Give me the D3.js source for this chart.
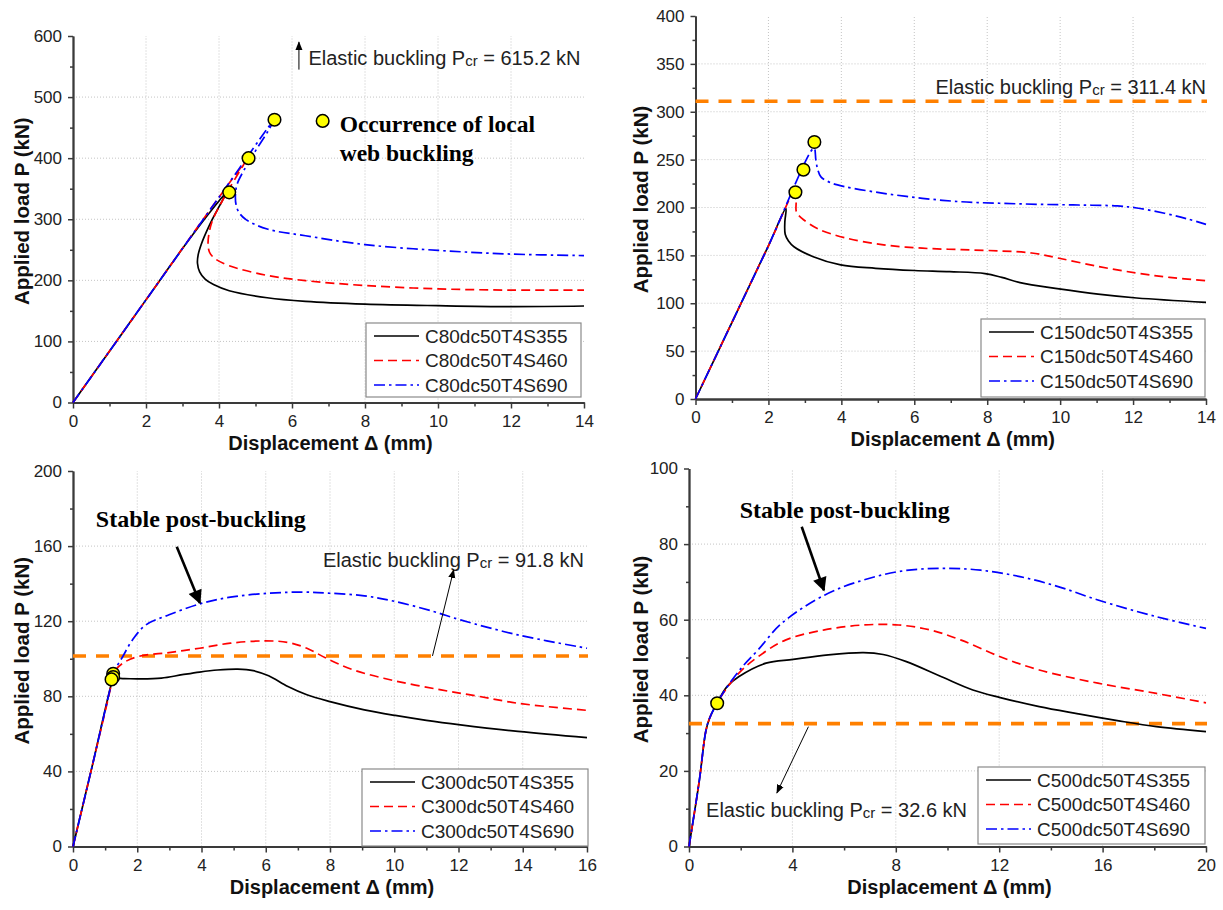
<!DOCTYPE html>
<html><head><meta charset="utf-8">
<script src="https://cdn.jsdelivr.net/npm/d3@7"></script>
<style>
body{margin:0;background:#fff;}
svg{display:block;font-family:"Liberation Sans",Arial,sans-serif;}
</style></head><body>
<svg id="c" width="1223" height="910"></svg>
<script>
// ---------------- DATA ----------------
const names1 = ["C80dc50T4S355","C80dc50T4S460","C80dc50T4S690"];
const names2 = ["C150dc50T4S355","C150dc50T4S460","C150dc50T4S690"];
const names3 = ["C300dc50T4S355","C300dc50T4S460","C300dc50T4S690"];
const names4 = ["C500dc50T4S355","C500dc50T4S460","C500dc50T4S690"];

const p1_S355 = [[0,0],[1,84],[2,168],[3,252],[3.6,300],[4.0,330],[4.15,340],[4.12,334],[3.95,315],[3.72,288],[3.52,260],[3.43,242],[3.41,228],[3.47,214],[3.62,202],[3.85,193],[4.28,183],[5.32,171.5],[6.37,165.5],[8,161],[10,158.5],[12,157],[14,158]];
const p1_S460 = [[0,0],[2,168],[4,336],[4.72,394],[4.6,382],[4.3,352],[4.0,320],[3.82,298],[3.73,278],[3.7,260],[3.74,246],[3.88,236],[4.28,224],[5.32,208],[6.37,199.5],[8,191.5],[10,186],[12,184],[14,184]];
const p1_S690 = [[0,0],[2,168],[4,336],[5.5,462],[5.35,445],[5.0,412],[4.7,382],[4.5,358],[4.45,340],[4.47,323],[4.56,310],[4.75,299],[5.32,284],[6.37,273],[8,258.5],[10,249],[12,243],[14,240.5]];
const p1_buckle = [[4.28,344],[4.81,400],[5.52,463]];

const p2_S355 = [[0,0],[1,80],[2,160],[2.48,199],[2.45,185],[2.46,172],[2.55,165],[2.7,159],[3.23,148.6],[3.98,140],[4.94,136.5],[6.01,134.2],[6.97,133],[7.94,131],[8.4,127],[8.9,121.5],[9.97,115],[11.04,109.5],[12.1,105.5],[14,101]];
const p2_S460 = [[0,0],[1,80],[2,160],[2.78,222],[2.76,205],[2.77,195],[2.91,189],[3.34,178],[4.09,168.5],[5.16,161],[6.22,157.5],[7.29,156],[8.36,154.6],[9.22,152.5],[9.97,147],[11.04,138.5],[12.1,131.5],[13,127],[14,123.5]];
const p2_S690 = [[0,0],[1,80],[2,160],[3.25,262],[3.3,250],[3.35,240],[3.44,232],[3.7,226],[4.09,221.8],[5.16,214.8],[6.22,209.6],[7.29,206],[8.36,204.4],[9.43,203.3],[10.5,202.6],[11.57,201.6],[12.1,199.5],[12.86,194],[13.5,188],[14,182.4]];
const p2_buckle = [[2.74,216],[2.96,239.5],[3.26,268.4]];

const p3_S355 = [[0,0],[0.6,43],[1.2,87],[1.25,89.3],[1.6,89.4],[2.03,89.3],[2.75,89.7],[3.4,91.5],[3.94,92.9],[4.5,94],[5.13,94.5],[5.61,93.7],[6.09,90.9],[6.69,85.2],[7.28,80.8],[8,77.2],[9.07,72.8],[10.03,69.8],[11,67.2],[12.06,64.8],[13.85,61.3],[16,58]];
const p3_S460 = [[0,0],[0.6,43],[1.2,87],[1.25,92.3],[1.55,97.6],[2.03,101.2],[2.99,103.3],[3.94,105.6],[4.9,108.3],[5.97,109.5],[6.69,108.7],[7.28,105.6],[7.88,100.3],[8.72,94.1],[10.03,88.2],[11.46,83.4],[12.66,79.9],[13.85,76.3],[16,72.5]];
const p3_S690 = [[0,0],[0.6,43],[1.2,87],[1.31,94.1],[1.55,101.2],[1.85,110],[2.27,118],[2.99,123.4],[3.94,129.2],[4.9,132.8],[6.09,134.9],[7.16,135.5],[8,134.9],[9.07,133.5],[10.03,130.5],[11.22,125.2],[12.06,120.7],[13.85,112.7],[16,105.6]];
const p3_buckle = [[1.25,92],[1.25,90.3],[1.2,89]];

const p4_S355 = [[0,0],[0.4,17.5],[0.65,30.5],[0.8,34],[1.09,38],[1.47,42.3],[1.92,44.9],[2.98,48.5],[4.03,49.5],[5.39,50.7],[6.75,51.3],[7.51,50.8],[8.41,48.9],[9.77,44.9],[10.98,41.4],[12.04,39.4],[13.55,37],[15.06,35.1],[16.57,33.3],[18.08,31.7],[20,30.4]];
const p4_S460 = [[0,0],[0.4,17.5],[0.65,30.5],[0.8,34],[1.16,38.8],[1.92,45.8],[2.67,50.2],[3.73,54.6],[5.24,57.3],[6.75,58.6],[8.11,58.6],[9.32,57.3],[10.53,54.6],[12.04,50.2],[13.55,46.7],[15.82,43.2],[18.08,40.5],[20,38]];
const p4_S690 = [[0,0],[0.4,17.5],[0.65,30.5],[0.8,34],[1.31,40.5],[2.07,47.6],[2.67,52],[3.58,59],[5.24,66.5],[6.75,70.5],[8.26,72.9],[9.77,73.6],[11.28,73.1],[12.8,71.4],[14.31,68.7],[15.82,65.2],[18.08,60.8],[20,57.7]];
const p4_buckle = [[1.09,37.9]];

const pcrLabels = ["615.2","311.4","91.8","32.6"];
const pcrLineValues = [null, 311, 101.5, 32.5];

const xTicks1 = [0,2,4,6,8,10,12,14], yTicks1 = [0,100,200,300,400,500,600];
const xTicks2 = [0,2,4,6,8,10,12,14], yTicks2 = [0,50,100,150,200,250,300,350,400];
const xTicks3 = [0,2,4,6,8,10,12,14,16], yTicks3 = [0,40,80,120,160,200];
const xTicks4 = [0,4,8,12,16,20], yTicks4 = [0,20,40,60,80,100];

// ---------------- DRAWING ----------------
const svg = d3.select("#c");
const defs = svg.append("defs");
defs.append("marker").attr("id","headThin").attr("viewBox","0 0 10 10").attr("refX",9).attr("refY",5)
  .attr("markerWidth",9).attr("markerHeight",9).attr("markerUnits","userSpaceOnUse").attr("orient","auto")
  .append("path").attr("d","M0,1 L10,5 L0,9 Z").attr("fill","#000");
defs.append("marker").attr("id","headThick").attr("viewBox","0 0 10 10").attr("refX",9).attr("refY",5)
  .attr("markerWidth",16).attr("markerHeight",14).attr("markerUnits","userSpaceOnUse").attr("orient","auto")
  .append("path").attr("d","M0,0 L10,5 L0,10 Z").attr("fill","#000");

const styles = [
  {stroke:"#000000", dash:null, width:1.7},
  {stroke:"#ff0000", dash:"9,5", width:1.7},
  {stroke:"#0000ff", dash:"11,4,2.5,4", width:1.7}
];

function midTicks(t){ const r=[]; for(let i=0;i<t.length-1;i++) r.push((t[i]+t[i+1])/2); return r; }

function panel(cfg){
  const g = svg.append("g");
  const xT = cfg.xTicks, yT = cfg.yTicks;
  const x = d3.scaleLinear().domain([xT[0], xT[xT.length-1]]).range([cfg.left, cfg.right]);
  const y = d3.scaleLinear().domain([yT[0], yT[yT.length-1]]).range([cfg.bottom, cfg.top]);

  // grid
  const grid = g.append("g").attr("stroke","#c4c4c4").attr("stroke-width",1).attr("stroke-dasharray","1,2");
  grid.selectAll("line.v").data(xT.slice(1,-1)).join("line")
    .attr("x1",d=>x(d)).attr("x2",d=>x(d)).attr("y1",y.range()[0]).attr("y2",y.range()[1]);
  grid.selectAll("line.h").data(yT.slice(1,-1)).join("line").attr("class","h")
    .attr("x1",x.range()[0]).attr("x2",x.range()[1]).attr("y1",d=>y(d)).attr("y2",d=>y(d));

  // axes
  const axCol = "#3a3a3a";
  const xMinor = g.append("g").attr("transform",`translate(0,${cfg.bottom})`)
    .call(d3.axisBottom(x).tickValues(midTicks(xT)).tickSize(4).tickSizeOuter(0).tickFormat(""));
  const xMajor = g.append("g").attr("transform",`translate(0,${cfg.bottom})`)
    .call(d3.axisBottom(x).tickValues(xT).tickSize(6).tickSizeOuter(0).tickPadding(6).tickFormat(d3.format("d")));
  const yMinor = g.append("g").attr("transform",`translate(${cfg.left},0)`)
    .call(d3.axisLeft(y).tickValues(midTicks(yT)).tickSize(3).tickSizeOuter(0).tickFormat(""));
  const yMajor = g.append("g").attr("transform",`translate(${cfg.left},0)`)
    .call(d3.axisLeft(y).tickValues(yT).tickSize(5).tickSizeOuter(0).tickPadding(6).tickFormat(d3.format("d")));
  [xMinor,xMajor,yMinor,yMajor].forEach(a=>{
    a.select(".domain").attr("stroke",axCol).attr("stroke-width",1.8);
    a.selectAll(".tick line").attr("stroke",axCol).attr("stroke-width",1.5);
    a.selectAll("text").attr("font-size",17).attr("fill","#222").attr("font-family","Liberation Sans, Arial, sans-serif");
  });

  // axis titles
  g.append("text").attr("x",(cfg.left+cfg.right)/2+2).attr("y",cfg.bottom+47)
    .attr("text-anchor","middle").attr("font-size",20).attr("font-weight","bold").attr("fill","#111")
    .text("Displacement \u0394 (mm)");
  const ym = (cfg.top+cfg.bottom)/2 - 8;
  g.append("text").attr("transform",`translate(${cfg.ytitleX},${ym}) rotate(-90)`)
    .attr("text-anchor","middle").attr("dominant-baseline","central").attr("font-size",20.5).attr("font-weight","bold").attr("fill","#111")
    .text("Applied load P (kN)");

  // Pcr line
  if (cfg.pcrLine != null){
    g.append("line").attr("x1",x.range()[0]).attr("x2",x.range()[1]+1)
      .attr("y1",y(cfg.pcrLine)).attr("y2",y(cfg.pcrLine))
      .attr("stroke","#ff8000").attr("stroke-width",3.6).attr("stroke-dasharray","13,10");
  }

  // curves
  const line = d3.line().x(d=>x(d[0])).y(d=>y(d[1])).curve(d3.curveCatmullRom.alpha(0.5));
  cfg.series.forEach((s,i)=>{
    g.append("path").datum(s).attr("d",line).attr("fill","none")
      .attr("stroke",styles[i].stroke).attr("stroke-width",styles[i].width)
      .attr("stroke-dasharray",styles[i].dash);
  });

  // buckling markers
  g.selectAll("circle.b").data(cfg.buckle).join("circle").attr("class","b")
    .attr("cx",d=>x(d[0])).attr("cy",d=>y(d[1])).attr("r",6.3)
    .attr("fill","#ffff00").attr("stroke","#000").attr("stroke-width",1.5);

  // legend
  const L = cfg.legend;
  g.append("rect").attr("x",L.x).attr("y",L.y).attr("width",L.w).attr("height",L.h)
    .attr("fill","#fff").attr("stroke","#8a8a8a").attr("stroke-width",1.2);
  cfg.names.forEach((n,i)=>{
    const yy = L.y + 13 + i*24.5;
    g.append("line").attr("x1",L.x+8).attr("x2",L.x+53).attr("y1",yy).attr("y2",yy)
      .attr("stroke",styles[i].stroke).attr("stroke-width",styles[i].width).attr("stroke-dasharray",styles[i].dash);
    g.append("text").attr("x",L.x+59).attr("y",yy).attr("dominant-baseline","central")
      .attr("font-size",19).attr("fill","#222").text(n);
  });

  // annotations
  const pcrText = (tx, ty, anchor, label) => {
    const t = g.append("text").attr("x",tx).attr("y",ty).attr("text-anchor",anchor)
      .attr("font-size",20).attr("fill","#222");
    t.append("tspan").text("Elastic buckling P");
    t.append("tspan").attr("font-size",15).attr("dy",1).text("cr");
    t.append("tspan").attr("dy",-1).text(" = " + label + " kN");
  };
  (cfg.annot||[]).forEach(a=>{
    if (a.type==="pcr") pcrText(x(a.at[0]), y(a.at[1]), a.anchor||"start", a.label);
    if (a.type==="stable") g.append("text").attr("x",x(a.at[0])).attr("y",y(a.at[1]))
      .attr("font-family","Liberation Serif, Times New Roman, serif").attr("font-weight","bold")
      .attr("font-size",24).attr("fill","#000").text("Stable post-buckling");
    if (a.type==="arrow") g.append("line").attr("x1",x(a.from[0])).attr("y1",y(a.from[1]))
      .attr("x2",x(a.to[0])).attr("y2",y(a.to[1])).attr("stroke","#000")
      .attr("stroke-width",a.thick?2.6:1).attr("marker-end",a.thick?"url(#headThick)":"url(#headThin)");
    if (a.type==="occ"){
      g.append("circle").attr("cx",x(a.at[0])).attr("cy",y(a.at[1])).attr("r",6.3)
        .attr("fill","#ffff00").attr("stroke","#000").attr("stroke-width",1.5);
      const tt = g.append("text").attr("font-family","Liberation Serif, Times New Roman, serif")
        .attr("font-weight","bold").attr("font-size",23.5).attr("fill","#000");
      tt.append("tspan").attr("x",x(a.at[0])+17).attr("y",y(a.at[1])+11).text("Occurrence of local");
      tt.append("tspan").attr("x",x(a.at[0])+17).attr("y",y(a.at[1])+40).text("web buckling");
    }
  });
}

panel({left:73, right:584, top:36, bottom:402.5, xTicks:xTicks1, yTicks:yTicks1, ytitleX:21,
  series:[p1_S355,p1_S460,p1_S690], names:names1, buckle:p1_buckle, pcrLine:pcrLineValues[0],
  legend:{x:366,y:323,w:215,h:74},
  annot:[{type:"arrow",from:[6.19,545],to:[6.19,590]},
         {type:"pcr",at:[6.45,552],label:pcrLabels[0]},
         {type:"occ",at:[6.84,461]}]});

panel({left:695.5, right:1206, top:16, bottom:399, xTicks:xTicks2, yTicks:yTicks2, ytitleX:640,
  series:[p2_S355,p2_S460,p2_S690], names:names2, buckle:p2_buckle, pcrLine:pcrLineValues[1],
  legend:{x:981,y:319,w:224,h:78},
  annot:[{type:"pcr",at:[14,319],anchor:"end",label:pcrLabels[1]}]});

panel({left:73, right:587, top:471, bottom:846.5, xTicks:xTicks3, yTicks:yTicks3, ytitleX:21,
  series:[p3_S355,p3_S460,p3_S690], names:names3, buckle:p3_buckle, pcrLine:pcrLineValues[2],
  legend:{x:362,y:769,w:226,h:77},
  annot:[{type:"stable",at:[0.71,170]},
         {type:"arrow",from:[3.23,159.6],to:[3.95,129.7],thick:true},
         {type:"pcr",at:[7.78,149],label:pcrLabels[2]},
         {type:"arrow",from:[11.19,101.5],to:[11.85,147.3]}]});

panel({left:689, right:1206, top:468.5, bottom:846.5, xTicks:xTicks4, yTicks:yTicks4, ytitleX:640,
  series:[p4_S355,p4_S460,p4_S690], names:names4, buckle:p4_buckle, pcrLine:pcrLineValues[3],
  legend:{x:978,y:767,w:227,h:77},
  annot:[{type:"stable",at:[1.96,87]},
         {type:"arrow",from:[4.36,84.6],to:[5.22,67.8],thick:true},
         {type:"pcr",at:[0.66,7.9],label:pcrLabels[3]},
         {type:"arrow",from:[4.62,31.7],to:[3.4,14.2]}]});
</script>
</body></html>
